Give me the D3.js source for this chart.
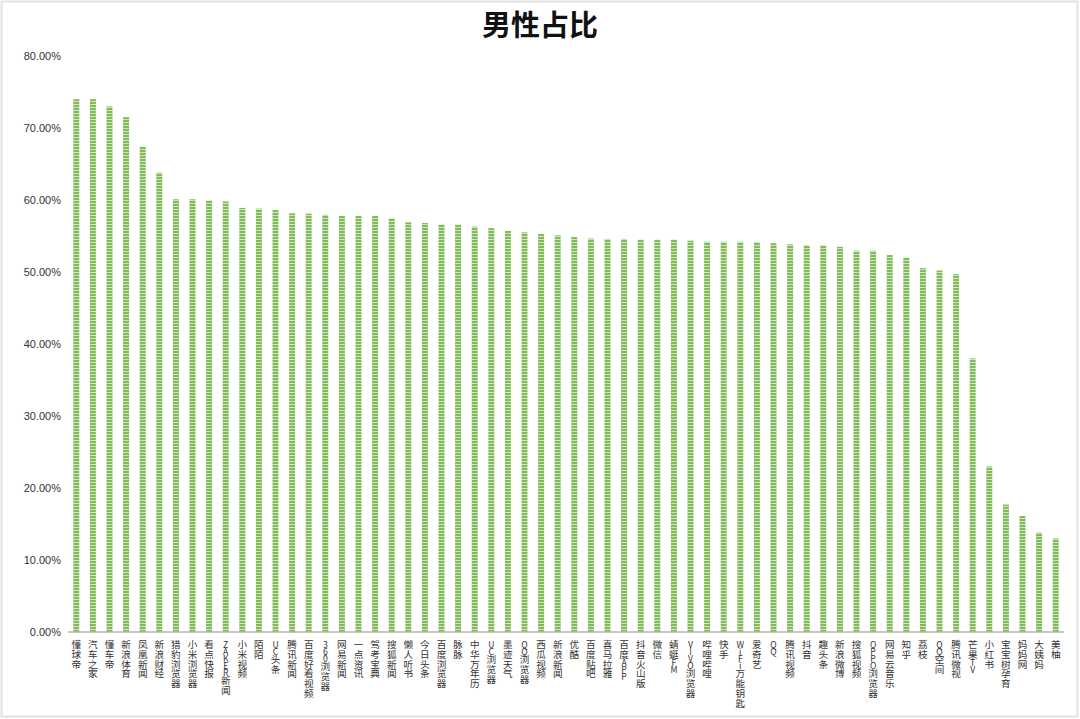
<!DOCTYPE html>
<html>
<head>
<meta charset="utf-8">
<script src="https://cdn.jsdelivr.net/npm/d3@7"></script>
<style>
    body { margin: 0; background: #fff; }
    svg { display: block; }
    .tick text { font-family: "Liberation Sans", "Noto Sans CJK SC", sans-serif; }
</style>
</head>
<body>
<script>
// app names, in chart order
const apps = [
    "懂球帝", "汽车之家", "懂车帝", "新浪体育", "凤凰新闻", "新浪财经", "猎豹浏览器", "小米浏览器",
    "看点快报", "ZAKER新闻", "小米视频", "陌陌", "UC头条", "腾讯新闻", "百度好看视频", "360浏览器",
    "网易新闻", "一点资讯", "驾考宝典", "搜狐新闻", "懒人听书", "今日头条", "百度浏览器", "脉脉",
    "中华万年历", "UC浏览器", "墨迹天气", "QQ浏览器", "西瓜视频", "新浪新闻", "优酷", "百度贴吧",
    "喜马拉雅", "百度APP", "抖音火山版", "微信", "蜻蜓FM", "VIVO浏览器", "哔哩哔哩", "快手",
    "WiFi万能钥匙", "爱奇艺", "QQ", "腾讯视频", "抖音", "趣头条", "新浪微博", "搜狐视频",
    "OPPO浏览器", "网易云音乐", "知乎", "荔枝", "QQ空间", "腾讯微视", "芒果TV", "小红书",
    "宝宝树孕育", "妈妈网", "大姨妈", "美柚"
];

// share of male users (%)
const maleShare = [
    74.0, 74.0, 73.0, 71.5, 67.4, 63.8, 60.1, 60.1,
    59.95, 59.8, 58.9, 58.8, 58.6, 58.15, 58.1, 57.95,
    57.8, 57.8, 57.8, 57.45, 56.9, 56.8, 56.6, 56.6,
    56.3, 56.1, 55.7, 55.5, 55.3, 55.1, 54.85, 54.65,
    54.6, 54.6, 54.5, 54.5, 54.5, 54.35, 54.2, 54.2,
    54.2, 54.15, 54.0, 53.85, 53.7, 53.7, 53.5, 52.95,
    52.95, 52.35, 52.0, 50.55, 50.2, 49.7, 38.0, 23.0,
    17.7, 16.1, 13.8, 13.0
];

const yTicks = [0, 10, 20, 30, 40, 50, 60, 70, 80];

const title = "男性占比";

const W = 1080, H = 719;

const svg = d3.select("body").append("svg")
    .attr("width", W)
    .attr("height", H);

// light frame round the picture
svg.append("rect")
    .attr("x", 1.5).attr("y", 1.5)
    .attr("width", W - 4).attr("height", H - 4)
    .attr("fill", "#fff")
    .attr("stroke", "#e2e2e2")
    .attr("stroke-width", 2);

// striped fill for the bars
const defs = svg.append("defs");
const pat = defs.append("pattern")
    .attr("id", "stripes")
    .attr("patternUnits", "userSpaceOnUse")
    .attr("width", 8).attr("height", 3);
pat.append("rect").attr("width", 8).attr("height", 3).attr("fill", "#80bb58");
pat.append("rect").attr("y", 2).attr("width", 8).attr("height", 1).attr("fill", "#cfe5bf");

let xScale = d3.scaleBand()
    .domain(apps)
    .range([68, 1064])
    .paddingInner(0.64)
    .paddingOuter(0.32);

let yScale = d3.scaleLinear()
    .domain([0, 80])
    .range([632, 56]);

// title
svg.append("text")
    .attr("x", W / 2)
    .attr("y", 36)
    .attr("text-anchor", "middle")
    .attr("font-family", "'Noto Sans CJK SC', sans-serif")
    .attr("font-weight", "bold")
    .attr("font-size", 29)
    .attr("fill", "#111")
    .text(title);

// y axis, labels only
let yAxis = svg.append("g")
    .attr("transform", "translate(61,0)")
    .call(d3.axisLeft(yScale)
        .tickValues(yTicks)
        .tickSize(0)
        .tickPadding(0)
        .tickFormat(d => d.toFixed(2) + "%"));
yAxis.select(".domain").remove();
yAxis.selectAll("text")
    .attr("font-size", 11)
    .attr("fill", "#333");

// bars
svg.append("g")
    .selectAll("rect")
    .data(maleShare)
    .join("rect")
    .attr("x", (d, i) => xScale(apps[i]))
    .attr("y", d => yScale(d))
    .attr("width", xScale.bandwidth())
    .attr("height", d => yScale(0) - yScale(d))
    .attr("fill", "url(#stripes)");

// baseline
svg.append("line")
    .attr("x1", 68).attr("x2", 1064)
    .attr("y1", yScale(0)).attr("y2", yScale(0))
    .attr("stroke", "#b5b5b5")
    .attr("stroke-width", 1.5);

// category labels, one char per line; latin letters sit closer together
let labels = svg.append("g")
    .attr("font-family", "'Noto Sans CJK SC', sans-serif")
    .attr("font-size", 9.6)
    .attr("fill", "#333")
    .attr("text-anchor", "middle");

const isLatin = ch => /[A-Za-z0-9]/.test(ch);

apps.forEach(name => {
    let cx = xScale(name) + xScale.bandwidth() / 2;
    let t = labels.append("text")
        .attr("x", cx)
        .attr("y", 648);
    let prev = null;
    Array.from(name).forEach(ch => {
        let step = 0;
        if (prev !== null)
            step = (isLatin(prev) && isLatin(ch)) ? 7 : (isLatin(prev) || isLatin(ch)) ? 8.4 : 9.8;
        t.append("tspan")
            .attr("x", cx)
            .attr("dy", step)
            .attr("font-size", isLatin(ch) ? 8.6 : 9.6)
            .text(ch);
        prev = ch;
    });
});
</script>
</body>
</html>
